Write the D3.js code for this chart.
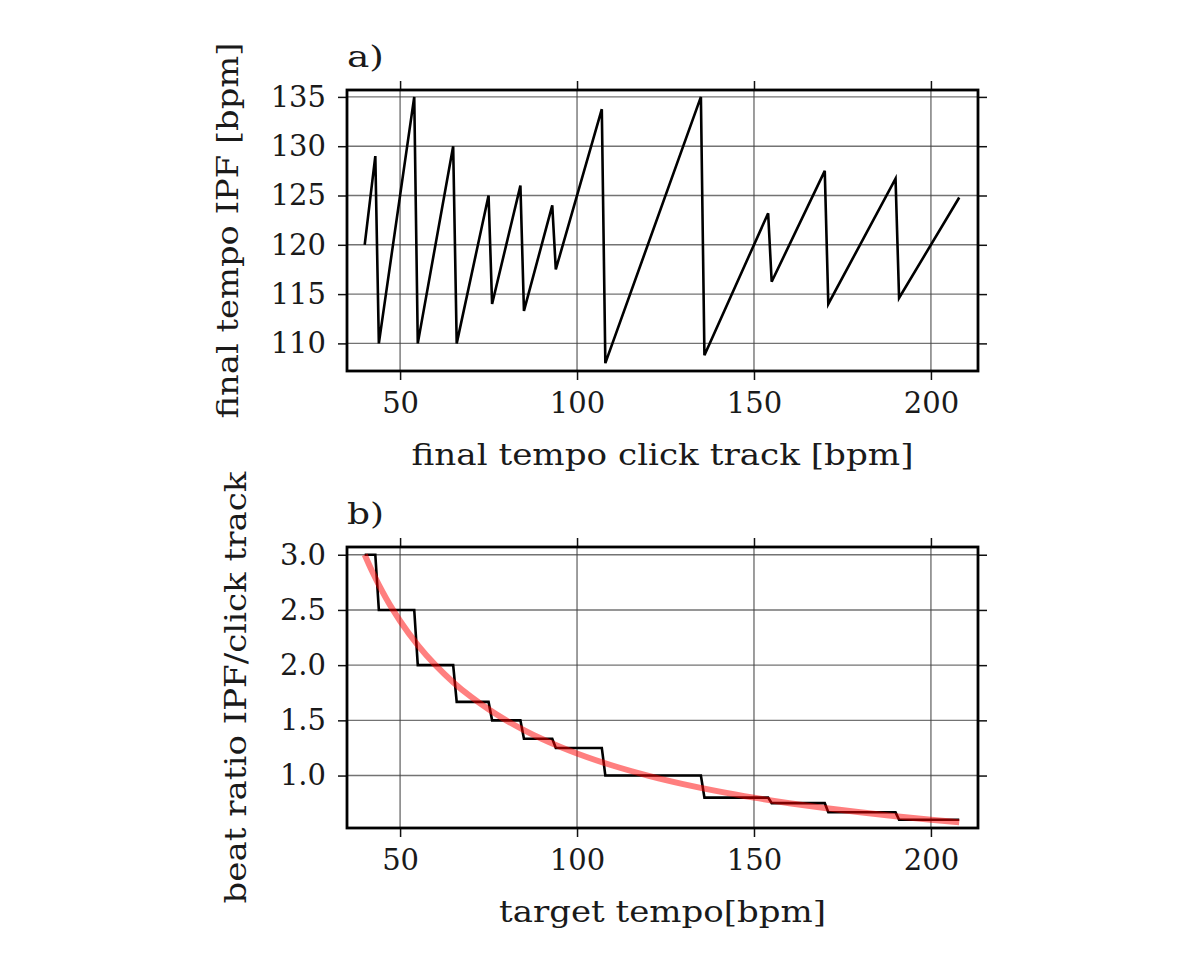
<!DOCTYPE html>
<html>
<head>
<meta charset="utf-8">
<script src="https://cdn.jsdelivr.net/npm/d3@7"></script>
<style>
  html, body { margin: 0; padding: 0; background: #fff; }
  svg { display: block; }
  text { font-family: "DejaVu Serif", serif; fill: #1a1a1a; }
</style>
</head>
<body>
<svg id="chart" width="1200" height="968"></svg>
<script>
// ---- Data ----
// Panel a: final tempo of click track vs final tempo IPF (sawtooth vertices)
const clickTempo = [40, 43, 44, 54, 55, 65, 66, 75, 76, 84, 85, 93, 94, 107, 108, 135, 136, 154, 155, 170, 171, 190, 191, 208];
const ipfTempo   = [120, 129, 110, 135, 110, 130, 110, 125, 114, 126, 113.3, 124, 117.5, 133.75, 108, 135, 108.8, 123.2, 116.25, 127.5, 114, 126.7, 114.6, 124.8];

// Panel b: beat ratio IPF/click track (step line vertices)
const targetTempo = [40, 43, 44, 54, 55, 65, 66, 75, 76, 84, 85, 93, 94, 107, 108, 135, 136, 154, 155, 170, 171, 190, 191, 208];
const beatRatio   = [3, 3, 2.5, 2.5, 2, 2, 1.667, 1.667, 1.5, 1.5, 1.333, 1.333, 1.25, 1.25, 1, 1, 0.8, 0.8, 0.75, 0.75, 0.667, 0.667, 0.6, 0.6];

// Panel b: smooth reference curve (red)
const curveTempo = [40, 42, 44, 46, 48, 50, 55, 60, 65, 70, 75, 80, 85, 90, 95, 100, 110, 120, 130, 140, 150, 160, 170, 180, 190, 200, 208];
const curveRatio = [3.0, 2.857, 2.727, 2.609, 2.5, 2.4, 2.182, 2.0, 1.846, 1.714, 1.6, 1.5, 1.412, 1.333, 1.263, 1.2, 1.091, 1.0, 0.923, 0.857, 0.8, 0.75, 0.706, 0.667, 0.632, 0.6, 0.577];

// Ticks
const xTicks  = [50, 100, 150, 200];
const yTicksA = [110, 115, 120, 125, 130, 135];
const yTicksB = [1.0, 1.5, 2.0, 2.5, 3.0];

// ---- Layout ----
const svg = d3.select("#chart");
const L = 347, R = 978;
const FS = 29;

function panel(opts) {
  const { top, bottom, yDomain, yTicks, yFmt, title, xLabel, yLabel, yLabelX, xLabelLen, yLabelLen } = opts;
  const x = d3.scaleLinear().domain([35, 213.3]).range([L, R]);
  const y = d3.scaleLinear().domain(yDomain).range([bottom, top]);
  const g = svg.append("g");

  // grid
  g.append("g").selectAll("line").data(xTicks).join("line")
    .attr("x1", d => x(d)).attr("x2", d => x(d))
    .attr("y1", top).attr("y2", bottom)
    .attr("stroke", "#444").attr("stroke-width", 1.4).attr("stroke-opacity", 0.75);
  g.append("g").selectAll("line").data(yTicks).join("line")
    .attr("x1", L).attr("x2", R)
    .attr("y1", d => y(d)).attr("y2", d => y(d))
    .attr("stroke", "#444").attr("stroke-width", 1.4).attr("stroke-opacity", 0.75);

  // axes (ticks on all sides, outward)
  const tl = 9;
  g.append("g").attr("transform", `translate(0,${bottom})`)
    .call(d3.axisBottom(x).tickValues(xTicks).tickSize(tl).tickPadding(12).tickFormat(d3.format("d")))
    .call(a => a.select(".domain").remove());
  g.append("g").attr("transform", `translate(0,${top})`)
    .call(d3.axisTop(x).tickValues(xTicks).tickSize(tl).tickFormat(""))
    .call(a => a.select(".domain").remove());
  g.append("g").attr("transform", `translate(${L},0)`)
    .call(d3.axisLeft(y).tickValues(yTicks).tickSize(tl).tickPadding(12).tickFormat(yFmt))
    .call(a => a.select(".domain").remove());
  g.append("g").attr("transform", `translate(${R},0)`)
    .call(d3.axisRight(y).tickValues(yTicks).tickSize(tl).tickFormat(""))
    .call(a => a.select(".domain").remove());
  g.selectAll(".tick line").attr("stroke", "#111").attr("stroke-width", 1.5);
  g.selectAll(".tick text").attr("font-family", "DejaVu Serif").attr("font-size", FS).attr("fill", "#1a1a1a");

  // labels
  g.append("text").attr("x", (L + R) / 2).attr("y", bottom + 94)
    .attr("text-anchor", "middle").attr("font-size", FS)
    .attr("textLength", xLabelLen).attr("lengthAdjust", "spacingAndGlyphs").text(xLabel);
  g.append("text").attr("transform", `translate(${yLabelX},${(top + bottom) / 2}) rotate(-90)`)
    .attr("text-anchor", "middle").attr("font-size", FS)
    .attr("textLength", yLabelLen).attr("lengthAdjust", "spacingAndGlyphs").text(yLabel);
  g.append("text").attr("x", L).attr("y", top - 23)
    .attr("font-size", FS).attr("textLength", 37).attr("lengthAdjust", "spacingAndGlyphs").text(title);

  return { g, x, y, top, bottom };
}

// Panel a
const pa = panel({
  top: 90, bottom: 371, yDomain: [107.2, 135.7], yTicks: yTicksA, yFmt: d3.format("d"),
  title: "a)", xLabel: "final tempo click track [bpm]", yLabel: "final tempo IPF [bpm]", yLabelX: 238,
  xLabelLen: 502, yLabelLen: 376
});
const lineA = d3.line().x((d, i) => pa.x(clickTempo[i])).y(d => pa.y(d));
pa.g.append("path").datum(ipfTempo).attr("d", lineA)
  .attr("fill", "none").attr("stroke", "#000").attr("stroke-width", 2.6).attr("stroke-linejoin", "miter");
pa.g.append("rect").attr("x", L).attr("y", pa.top).attr("width", R - L).attr("height", pa.bottom - pa.top)
  .attr("fill", "none").attr("stroke", "#000").attr("stroke-width", 2.8);

// Panel b
const pb = panel({
  top: 547, bottom: 828, yDomain: [0.525, 3.07], yTicks: yTicksB, yFmt: d3.format(".1f"),
  title: "b)", xLabel: "target tempo[bpm]", yLabel: "beat ratio IPF/click track", yLabelX: 246,
  xLabelLen: 327, yLabelLen: 432
});
const lineB = d3.line().x((d, i) => pb.x(targetTempo[i])).y(d => pb.y(d));
pb.g.append("path").datum(beatRatio).attr("d", lineB)
  .attr("fill", "none").attr("stroke", "#000").attr("stroke-width", 2.6);
const lineC = d3.line().x((d, i) => pb.x(curveTempo[i])).y(d => pb.y(d)).curve(d3.curveMonotoneX);
pb.g.append("path").datum(curveRatio).attr("d", lineC)
  .attr("fill", "none").attr("stroke", "red").attr("stroke-opacity", 0.5).attr("stroke-width", 6);
pb.g.append("rect").attr("x", L).attr("y", pb.top).attr("width", R - L).attr("height", pb.bottom - pb.top)
  .attr("fill", "none").attr("stroke", "#000").attr("stroke-width", 2.8);
</script>
</body>
</html>
